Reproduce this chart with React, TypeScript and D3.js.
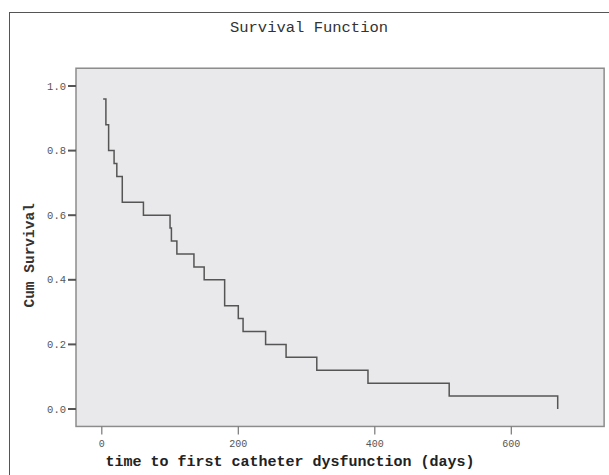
import React from "react";
import * as d3 from "d3";

// Kaplan-Meier steps
const days = [2, 6, 10, 18, 22, 30, 61, 100, 102, 110, 135, 150, 180, 200, 207, 240, 270, 315, 390, 509, 668];
const survival = [0.96, 0.88, 0.8, 0.76, 0.72, 0.64, 0.6, 0.56, 0.52, 0.48, 0.44, 0.4, 0.32, 0.28, 0.24, 0.2, 0.16, 0.12, 0.08, 0.04, 0];
const xTicks = [0, 200, 400, 600];
const yTicks = [0, 0.2, 0.4, 0.6, 0.8, 1.0];

const title = "Survival Function";
const xTitle = "time to first catheter dysfunction (days)";
const yTitle = "Cum Survival";

const W = 609,
	H = 475;
const font = "'Liberation Mono', 'Courier New', monospace";

const App = () => {
	const x = d3.scaleLinear().domain([0, 600]).range([101.8, 511.3]);
	const y = d3.scaleLinear().domain([0, 1]).range([409, 86]);

	// plot box edges
	const left = x(-37.8),
		right = x(736),
		top = y(1.055),
		bottom = y(-0.054);

	const pts: [number, number][] = days.map((d, i) => [d, survival[i]]);
	const line = d3
		.line<[number, number]>()
		.x((d) => x(d[0]))
		.y((d) => y(d[1]))
		.curve(d3.curveStepAfter);

	return (
		<svg
			width={W}
			height={H}
			style={{ position: "absolute", left: 0, top: 0, background: "#fff" }}
		>
			{/* outer frame, runs off the right and bottom */}
			<rect x={9.5} y={12.5} width={640} height={500} fill="none" stroke="#555" strokeWidth={1} />

			<text x={309} y={32} textAnchor="middle" fontFamily={font} fontSize={15.5} fill="#333">
				{title}
			</text>

			<rect
				x={left}
				y={top}
				width={right - left}
				height={bottom - top}
				fill="#e9e9eb"
				stroke="#8c8c8c"
				strokeWidth={1.5}
			/>

			{/* y axis */}
			{yTicks.map((t) => (
				<g key={"y" + t}>
					<line x1={left - 8} x2={left} y1={y(t)} y2={y(t)} stroke="#555" strokeWidth={2} />
					<text
						x={left - 10}
						y={y(t)}
						dy="0.35em"
						textAnchor="end"
						fontFamily={font}
						fontSize={10.5}
						fill="#555"
					>
						{t.toFixed(1)}
					</text>
				</g>
			))}

			{/* x axis */}
			{xTicks.map((t) => (
				<g key={"x" + t}>
					<line x1={x(t)} x2={x(t)} y1={bottom} y2={bottom + 8} stroke="#777" strokeWidth={1.2} />
					<text
						x={x(t)}
						y={bottom + 21}
						textAnchor="middle"
						fontFamily={font}
						fontSize={10}
						fill="#555"
					>
						{t}
					</text>
				</g>
			))}

			<path d={line(pts) || ""} fill="none" stroke="#555" strokeWidth={1.5} />

			<text
				x={(left + right) / 2 - 50}
				y={466}
				textAnchor="middle"
				fontFamily={font}
				fontSize={15}
				fontWeight="bold"
				fill="#222"
			>
				{xTitle}
			</text>
			<text
				transform={`translate(34, ${(top + bottom) / 2 + 8}) rotate(-90)`}
				textAnchor="middle"
				fontFamily={font}
				fontSize={14.5}
				fontWeight="bold"
				fill="#333"
			>
				{yTitle}
			</text>
		</svg>
	);
};

export default App;
